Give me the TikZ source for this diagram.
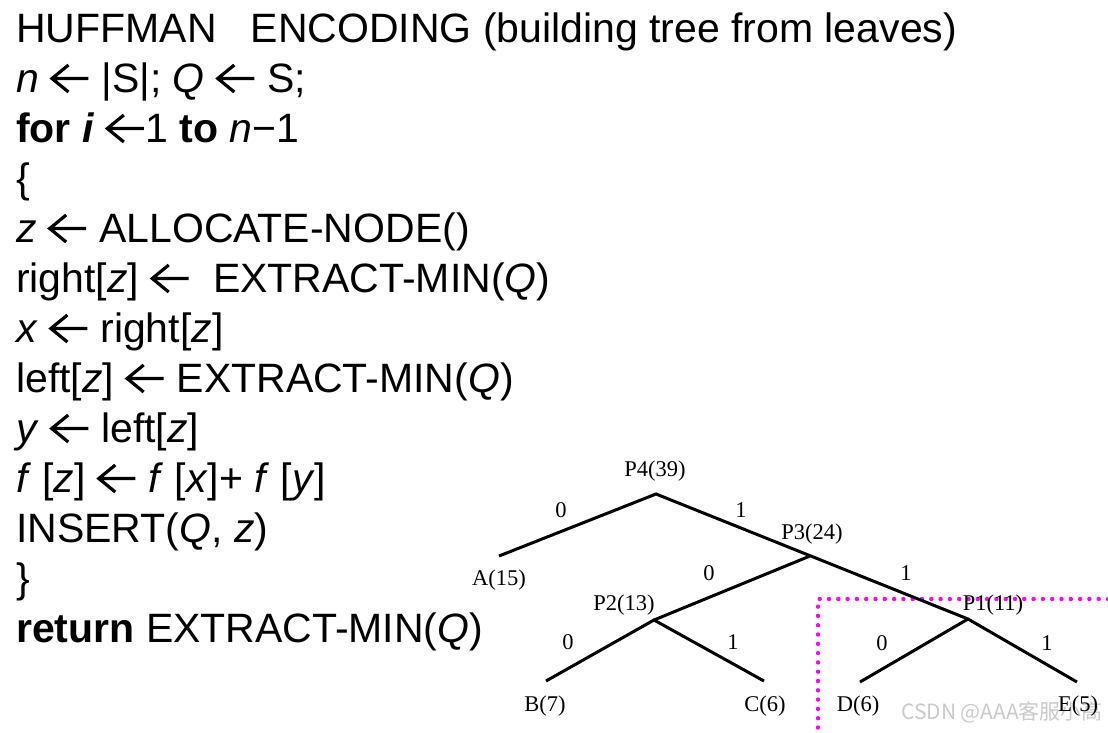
\documentclass[tikz,border=0pt]{standalone}
\usepackage{fontspec}
\setmainfont{Liberation Sans}
\newfontfamily\treefont{Liberation Serif}
\newfontfamily\cjkfont{Noto Sans CJK SC}
\newcommand{\la}{\tikz[baseline=0pt,x=1pt,y=1pt]{\draw[black,line width=3.2pt,line cap=butt,line join=miter,solid] (38,13.5)--(1.5,13.5) (18,27)--(1.5,13.5)--(18,0);}}
\begin{document}
\begin{tikzpicture}[x=1pt,y=-1pt,
  code/.style={anchor=base west,inner sep=0pt,font=\fontsize{41}{44}\selectfont},
  tlabel/.style={inner sep=0pt,font=\treefont\fontsize{22.5}{24}\selectfont},
  edge/.style={line width=3pt},
  region/.style={color={rgb,1:red,1;green,0;blue,1},line width=4.4pt,line cap=round,dash pattern=on 0pt off 9.3pt}]
\useasboundingbox (0,0) rectangle (1108,732);
% pseudocode
\node[code] (l1)  at (16,42)  {HUFFMAN\ \ \ ENCODING (building tree from leaves)};
\node[code] (l2)  at (16,92)  {\textit{n} \la{} |S|; \textit{Q} \la{} S;};
\node[code] (l3)  at (16,142) {\textbf{for \textit{i}} \la1 \textbf{to} \textit{n}−1};
\node[code] (l4)  at (16,192) {\{};
\node[code] (l5)  at (16,242) {\textit{z} \la{} ALLOCATE-NODE()};
\node[code] (l6)  at (16,292) {right[\textit{z}] \la{}\ \ EXTRACT-MIN(\textit{Q})};
\node[code] (l7)  at (16,342) {\textit{x} \la{} right[\textit{z}]};
\node[code] (l8)  at (16,392) {left[\textit{z}] \la{} EXTRACT-MIN(\textit{Q})};
\node[code] (l9)  at (16,442) {\textit{y} \la{} left[\textit{z}]};
\node[code] (l10) at (16,492) {\textit{f} [\textit{z}] \la{} \textit{f} [\textit{x}]+ \textit{f} [\textit{y}]};
\node[code] (l11) at (16,542) {INSERT(\textit{Q}, \textit{z})};
\node[code] (l12) at (16,592) {\}};
\node[code] (l13) at (16,642) {\textbf{return} EXTRACT-MIN(\textit{Q})};
% tree junctions
\coordinate (p4) at (656,494);
\coordinate (a)  at (499,556);
\coordinate (p3) at (810,556);
\coordinate (p1) at (968,619);
\coordinate (p2) at (654,620);
\coordinate (b)  at (546,681);
\coordinate (c)  at (764,681);
\coordinate (d)  at (860,682);
\coordinate (e)  at (1077,682);
% magenta dotted region
\coordinate (r1) at (1108,599);
\coordinate (r2) at (818,599);
\coordinate (r3) at (818,732);
\draw[region] (r1) -- (r2) -- (r3);
% edges
\draw[edge] (a) -- (p4) -- (p1) -- (e);
\draw[edge] (p3) -- (p2);
\draw[edge] (b) -- (p2) -- (c);
\draw[edge] (p1) -- (d);
% labels
\node[tlabel] (np4) at (655,471) {P4(39)};
\node[tlabel] (na)  at (499,580) {A(15)};
\node[tlabel] (np3) at (812,534) {P3(24)};
\node[tlabel] (np2) at (624,605) {P2(13)};
\node[tlabel] (np1) at (993,605) {P1(11)};
\node[tlabel] (nb)  at (545,706) {B(7)};
\node[tlabel] (nc)  at (765,706) {C(6)};
\node[tlabel] (nd)  at (858,706) {D(6)};
\node[tlabel] (e1) at (561,510) {0};
\node[tlabel] (e2) at (741,510) {1};
\node[tlabel] (e3) at (709,573) {0};
\node[tlabel] (e4) at (906,573) {1};
\node[tlabel] (e5) at (568,642) {0};
\node[tlabel] (e6) at (733,642) {1};
\node[tlabel] (e7) at (882,643) {0};
\node[tlabel] (e8) at (1047,643) {1};
% watermark (drawn under E(5) as in the reference)
\node[inner sep=0pt,text=black!21,font=\cjkfont\fontsize{21}{22}\selectfont] (wm) at (1002,712) {CSDN @AAA客服小高};
\node[tlabel] (ne)  at (1078,706) {E(5)};
\end{tikzpicture}
\end{document}
